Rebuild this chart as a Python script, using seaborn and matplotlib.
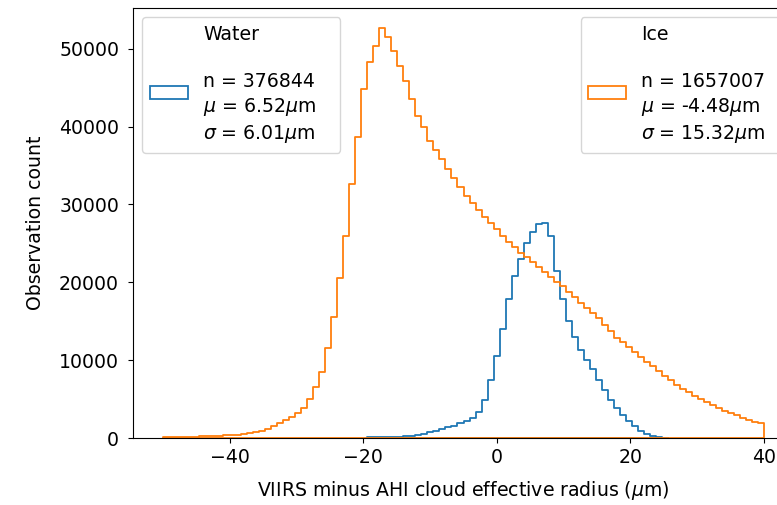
import numpy as np
import pandas as pd
import matplotlib
matplotlib.use("Agg")
import matplotlib.pyplot as plt
import seaborn as sns
from matplotlib.patches import Patch, Rectangle
from matplotlib.legend_handler import HandlerPatch

# ---------------- data ----------------
bin_lo, bin_hi, n_bins = -50, 40, 100

ice_counts = [
    120, 130, 140, 150, 170, 190, 210, 230, 260, 290,
    330, 370, 430, 500, 620, 760, 950, 1200, 1550, 1950,
    2350, 2750, 3200, 3900, 5000, 6500, 8500, 11500, 15500, 20500,
    26000, 32600, 38600, 44800, 48300, 50400, 52600, 51500, 49700, 47800,
    45900, 43500, 41300, 39900, 38100, 37000, 35800, 34500, 33400, 32200,
    31100, 30200, 29300, 28400, 27600, 26800, 26000, 25200, 24500, 23800,
    23200, 22600, 22000, 21300, 20700, 20100, 19500, 18800, 18100, 17400,
    16700, 16000, 15400, 14500, 13700, 12900, 12300, 11700, 11100, 10400,
    9800, 9200, 8600, 8000, 7400, 6800, 6300, 5900, 5400, 5000,
    4600, 4200, 3900, 3500, 3200, 2900, 2600, 2300, 2100, 1900,
]

water_first_bin = 34
water_counts = [
    80, 90, 100, 110, 130, 160, 220, 300, 420, 560,
    750, 950, 1150, 1370, 1600, 1880, 2200, 2600, 3300, 4900,
    7500, 10500, 14000, 17800, 20800, 23000, 25000, 26500, 27500, 27600,
    26000, 21500, 17800, 15000, 13000, 11300, 10000, 8800, 7500, 6200,
    4900, 3900, 3000, 2200, 1500, 950, 550, 280, 130, 50,
]

water_title = "Water"
water_stats = ["n = 376844", r"$\mu$ = 6.52$\mu$m", r"$\sigma$ = 6.01$\mu$m"]
ice_title = "Ice"
ice_stats = ["n = 1657007", r"$\mu$ = -4.48$\mu$m", r"$\sigma$ = 15.32$\mu$m"]

x_label = r"VIIRS minus AHI cloud effective radius ($\mu$m)"
y_label = "Observation count"

water_color = "#1f77b4"
ice_color = "#ff7f0e"

# ---------------- build tables ----------------
edges = np.linspace(bin_lo, bin_hi, n_bins + 1)
centers = 0.5 * (edges[:-1] + edges[1:])
ice_df = pd.DataFrame({"x": centers, "count": ice_counts})
n_w = len(water_counts)
w_edges = edges[water_first_bin:water_first_bin + n_w + 1]
water_df = pd.DataFrame({"x": centers[water_first_bin:water_first_bin + n_w],
                         "count": water_counts})

plt.rcParams["font.family"] = ["DejaVu Sans"]
plt.rcParams["font.size"] = 13.6
plt.rcParams["mathtext.fontset"] = "dejavusans"
plt.rcParams["ytick.major.pad"] = 6.5

fig = plt.figure(figsize=(7.77, 5.05), dpi=100)
ax = fig.add_axes([133 / 777, 67 / 505, (794 - 133) / 777, (438 - 8) / 505])

lw = 1.3
sns.histplot(data=water_df, x="x", weights="count", bins=list(w_edges), element="step",
             fill=True, color=water_color, facecolor="none", edgecolor=water_color,
             linewidth=lw, ax=ax)
sns.histplot(data=ice_df, x="x", weights="count", bins=list(edges), element="step",
             fill=True, color=ice_color, facecolor="none", edgecolor=ice_color,
             linewidth=lw, ax=ax)

ax.set_xlim(-54.5, 44.5)
ax.set_ylim(0, 55230)
ax.set_xticks([-40, -20, 0, 20, 40])
ax.set_yticks([0, 10000, 20000, 30000, 40000, 50000])
ax.set_xlabel(x_label, labelpad=9)
ax.set_ylabel(y_label, labelpad=10)


def shifted_rect(legend, orig_handle, xdescent, ydescent, width, height, fontsize):
    return Rectangle((-xdescent, -ydescent - 4.5), width, height)


hmap = {Patch: HandlerPatch(patch_func=shifted_rect)}


def make_label(title, stats, pad):
    lines = [title, ""] + list(stats)
    lines[2] = lines[2] + pad
    return "\n".join(lines)


h_w = Patch(facecolor="none", edgecolor=water_color, linewidth=lw)
h_i = Patch(facecolor="none", edgecolor=ice_color, linewidth=lw)
leg1 = ax.legend([h_w], [make_label(water_title, water_stats, "   ")], loc="upper left",
                 handler_map=hmap)
for t in leg1.get_texts():
    t.set_linespacing(1.31)
ax.add_artist(leg1)
leg2 = ax.legend([h_i], [make_label(ice_title, ice_stats, "  ")], loc="upper right",
                 handler_map=hmap)
for t in leg2.get_texts():
    t.set_linespacing(1.31)

fig.savefig("out.png", dpi=100)
